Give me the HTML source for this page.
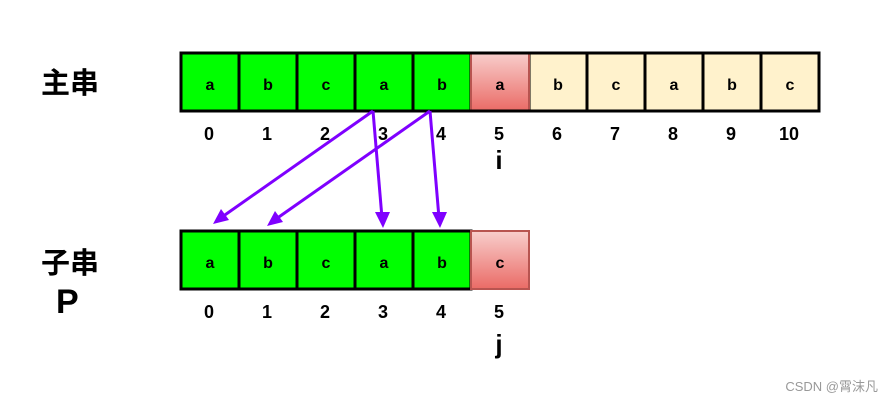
<!DOCTYPE html>
<html><head><meta charset="utf-8"><style>body{margin:0;background:#fff}svg{display:block}</style></head><body>
<svg width="894" height="404" xmlns="http://www.w3.org/2000/svg" font-family="Liberation Sans, Noto Sans CJK SC, sans-serif">
<defs>
<linearGradient id="r" x1="0" y1="0" x2="0" y2="1"><stop offset="0" stop-color="#f8cecc"/><stop offset="1" stop-color="#ea6b66"/></linearGradient>
</defs>
<g font-weight="bold" font-size="29" fill="#000">
<text x="41" y="93">主串</text>
<text x="41" y="273">子串</text>
<text x="56" y="313" font-size="34">P</text>
</g>
<!-- main row -->
<g stroke="#000" stroke-width="3">
<rect x="181" y="53" width="290" height="58" fill="#00ff00"/>
<line x1="239" y1="53" x2="239" y2="111"/><line x1="297" y1="53" x2="297" y2="111"/><line x1="355" y1="53" x2="355" y2="111"/><line x1="413" y1="53" x2="413" y2="111"/>
<rect x="529" y="53" width="290" height="58" fill="#fff2cc"/>
<line x1="587" y1="53" x2="587" y2="111"/><line x1="645" y1="53" x2="645" y2="111"/><line x1="703" y1="53" x2="703" y2="111"/><line x1="761" y1="53" x2="761" y2="111"/>
</g>
<rect x="471" y="53" width="58" height="58" fill="url(#r)" stroke="#b85450" stroke-width="2"/>
<line x1="181" y1="111" x2="819" y2="111" stroke="#000" stroke-width="3"/>
<line x1="181" y1="53" x2="819" y2="53" stroke="#000" stroke-width="3"/>
<g font-weight="bold" font-size="16" text-anchor="middle">
<text x="210" y="90">a</text><text x="268" y="90">b</text><text x="326" y="90">c</text><text x="384" y="90">a</text><text x="442" y="90">b</text><text x="500" y="90">a</text><text x="558" y="90">b</text><text x="616" y="90">c</text><text x="674" y="90">a</text><text x="732" y="90">b</text><text x="790" y="90">c</text>
</g>
<g font-weight="bold" font-size="18" text-anchor="middle">
<text x="209" y="140">0</text><text x="267" y="140">1</text><text x="325" y="140">2</text><text x="383" y="140">3</text><text x="441" y="140">4</text><text x="499" y="140">5</text><text x="557" y="140">6</text><text x="615" y="140">7</text><text x="673" y="140">8</text><text x="731" y="140">9</text><text x="789" y="140">10</text>
<text x="499" y="169" font-size="26">i</text>
</g>
<!-- sub row -->
<g stroke="#000" stroke-width="3">
<rect x="181" y="231" width="290" height="58" fill="#00ff00"/>
<line x1="239" y1="231" x2="239" y2="289"/><line x1="297" y1="231" x2="297" y2="289"/><line x1="355" y1="231" x2="355" y2="289"/><line x1="413" y1="231" x2="413" y2="289"/>
</g>
<rect x="471" y="231" width="58" height="58" fill="url(#r)" stroke="#b85450" stroke-width="2"/>
<g font-weight="bold" font-size="16" text-anchor="middle">
<text x="210" y="268">a</text><text x="268" y="268">b</text><text x="326" y="268">c</text><text x="384" y="268">a</text><text x="442" y="268">b</text><text x="500" y="268">c</text>
</g>
<g font-weight="bold" font-size="18" text-anchor="middle">
<text x="209" y="318">0</text><text x="267" y="318">1</text><text x="325" y="318">2</text><text x="383" y="318">3</text><text x="441" y="318">4</text><text x="499" y="318">5</text>
<text x="499" y="353" font-size="26">j</text>
</g>
<!-- arrows -->
<g stroke="#7f00ff" stroke-width="3" fill="none">
<line x1="373" y1="111" x2="222" y2="217"/>
<line x1="373" y1="111" x2="382" y2="218"/>
<line x1="430" y1="111" x2="276" y2="219"/>
<line x1="430" y1="111" x2="439" y2="218"/>
</g>
<g fill="#7f00ff">
<path d="M213,224 L221,209 L229,220 Z"/>
<path d="M383,228 L375,212 L390,212 Z"/>
<path d="M267,226 L275,211 L283,222 Z"/>
<path d="M440,228 L432,212 L447,212 Z"/>
</g>
<text x="878" y="391" font-size="13" fill="#999" text-anchor="end">CSDN @霄沫凡</text>
</svg>
</body></html>
